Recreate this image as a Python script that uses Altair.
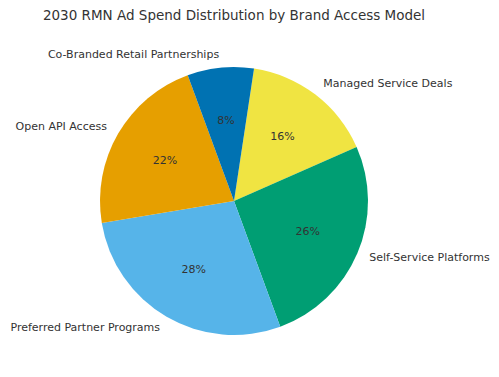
import math
import altair as alt
import pandas as pd

categories = ["Managed Service Deals", "Self-Service Platforms", "Preferred Partner Programs",
              "Open API Access", "Co-Branded Retail Partnerships"]
shares = [16, 26, 28, 22, 8]
colors = ["#F0E442", "#009E73", "#56B4E9", "#E69F00", "#0072B2"]
right_side = ["Managed Service Deals", "Self-Service Platforms"]

df = pd.DataFrame({"category": categories, "share": shares, "idx": list(range(len(categories)))})

start = math.radians(8.6)
theta = alt.Theta("share:Q", stack=True, scale=alt.Scale(range=[start, start + 2 * math.pi]))
color = alt.Color("category:N", scale=alt.Scale(domain=categories, range=colors), legend=None)
order = alt.Order("idx:Q")

CX, CY = 234, 171
FONT = "DejaVu Sans"
TXT = "#333333"
FS = 11

right_expr = "indexof(" + str(right_side).replace("'", '"') + ", datum.category) >= 0"

base = alt.Chart(df).transform_calculate(
    lbl="format(datum.share, '.0f') + '%'",
    rlbl=f"({right_expr}) ? datum.category : ''",
    llbl=f"({right_expr}) ? '' : datum.category",
).encode(theta=theta, order=order)

pie = base.mark_arc(radius=134, x=CX, y=CY).encode(color=color)

pct = base.mark_text(
    radius=80, x=CX, y=CY, font=FONT, fontSize=FS, color=TXT, align="center", baseline="middle"
).encode(text="lbl:N")

right_lbl = base.mark_text(
    radius=147, x=CX, y=CY, font=FONT, fontSize=FS, color=TXT, align="left", baseline="middle"
).encode(text="rlbl:N")

left_lbl = base.mark_text(
    radius=147, x=CX, y=CY, font=FONT, fontSize=FS, color=TXT, align="right", baseline="middle"
).encode(text="llbl:N")

chart = alt.layer(pie, pct, right_lbl, left_lbl).properties(
    width=468, height=347,
    title=alt.TitleParams("2030 RMN Ad Spend Distribution by Brand Access Model", font=FONT, fontSize=13.5,
                          fontWeight="normal", color=TXT, anchor="middle", offset=8),
    autosize=alt.AutoSizeParams(type="none"),
    padding={"left": 0, "top": 30, "right": 31, "bottom": 0},
).configure_view(stroke=None)

chart.save("out.html", embed_options={"renderer": "svg", "actions": False})
